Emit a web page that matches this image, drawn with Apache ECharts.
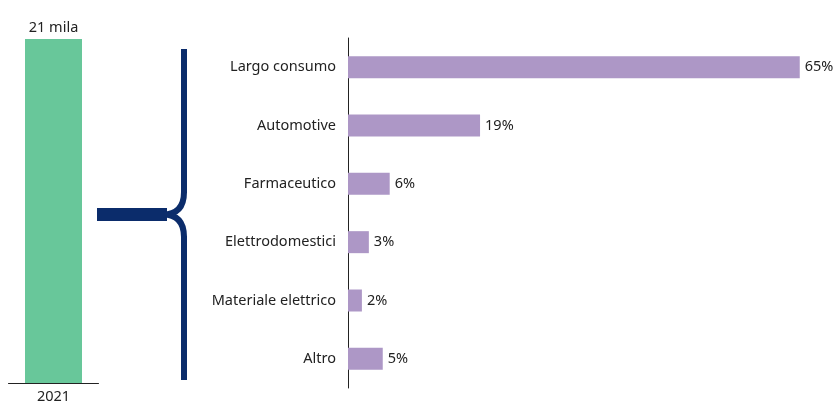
<!DOCTYPE html>
<html><head><meta charset="utf-8">
<script src="https://cdn.jsdelivr.net/npm/echarts@6/dist/echarts.min.js"></script>
<style>html,body{margin:0;padding:0;background:#fff}#c{width:836px;height:406px}</style>
</head><body><div id="c"></div>
<script>
const totalCategories = ['2021'];
const totalValues = [21];
const totalLabel = '21 mila';
const sectors = ['Largo consumo','Automotive','Farmaceutico','Elettrodomestici','Materiale elettrico','Altro'];
const sectorShares = [65,19,6,3,2,5];

const FONT = '"Noto Sans", sans-serif';
const FS = 14.5;
const chart = echarts.init(document.getElementById('c'));
const navy = '#0B2C6B';
const braceStyle = {fill:null, stroke:navy, lineWidth:6};
chart.setOption({
  animation:false,
  textStyle:{fontFamily:FONT},
  grid:[
    {left:8.5, width:90, top:39, bottom:23},
    {left:348, right:1.5, top:38, bottom:18}
  ],
  xAxis:[
    {gridIndex:0, type:'category', data:totalCategories,
     axisLine:{lineStyle:{color:'#222',width:1}}, axisTick:{show:false},
     axisLabel:{color:'#222',fontSize:FS,fontFamily:FONT,margin:6}},
    {gridIndex:1, type:'value', min:0, max:70, show:false, splitLine:{show:false}}
  ],
  yAxis:[
    {gridIndex:0, type:'value', min:0, max:21, show:false, splitLine:{show:false}},
    {gridIndex:1, type:'category', data:sectors, inverse:true,
     axisLine:{show:true,lineStyle:{color:'#222',width:1}}, axisTick:{show:false},
     axisLabel:{color:'#222',fontSize:FS,fontFamily:FONT,margin:12}}
  ],
  series:[
    {type:'bar', xAxisIndex:0, yAxisIndex:0, data:totalValues, barWidth:57,
     itemStyle:{color:'#68C79A'},
     label:{show:true,position:'top',distance:4,color:'#222',fontSize:FS,fontFamily:FONT,formatter:()=>totalLabel}},
    {type:'bar', xAxisIndex:1, yAxisIndex:1, data:sectorShares, barWidth:22,
     itemStyle:{color:'#AD97C6'},
     label:{show:true,position:'right',distance:5,color:'#222',fontSize:FS,fontFamily:FONT,formatter:p=>p.value+'%'}}
  ],
  graphic:[
    {type:'rect', shape:{x:97,y:208,width:70,height:13}, style:{fill:navy}},
    {type:'line', shape:{x1:184,y1:49,x2:184,y2:193}, style:braceStyle},
    {type:'bezierCurve', shape:{x1:184,y1:192,cpx1:184,cpy1:214.5,x2:163,y2:214.5}, style:braceStyle},
    {type:'bezierCurve', shape:{x1:184,y1:237,cpx1:184,cpy1:214.5,x2:163,y2:214.5}, style:braceStyle},
    {type:'line', shape:{x1:184,y1:236,x2:184,y2:380}, style:braceStyle}
  ]
});
</script></body></html>
